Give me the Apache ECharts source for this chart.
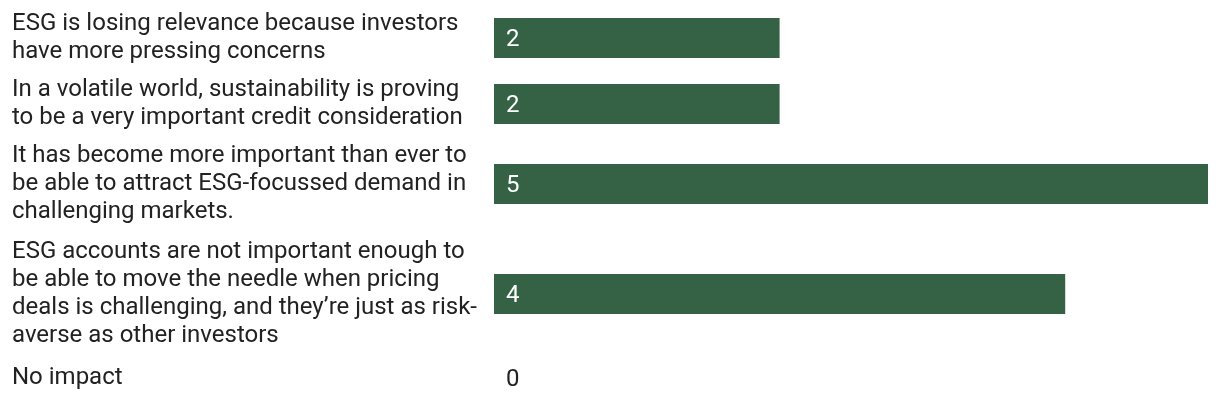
<!DOCTYPE html>
<html>
<head>
<meta charset="utf-8">
<script src="https://cdn.jsdelivr.net/npm/echarts@6/dist/echarts.min.js"></script>
<style>
html,body{margin:0;padding:0;background:#fff;}
#chart{width:1220px;height:410px;}
</style>
</head>
<body>
<div id="chart"></div>
<script>
const categories = [
  "ESG is losing relevance because investors\nhave more pressing concerns",
  "In a volatile world, sustainability is proving\nto be a very important credit consideration",
  "It has become more important than ever to\nbe able to attract ESG-focussed demand in\nchallenging markets.",
  "ESG accounts are not important enough to\nbe able to move the needle when pricing\ndeals is challenging, and they\u2019re just as risk-\naverse as other investors",
  "No impact"
];
const values = [2, 2, 5, 4, 0];
const axisMax = 5;

const rowCenters = [38, 104, 184, 294, 378];
const barH = 40;
const FONT = 'Roboto, "Noto Sans", sans-serif';
const barColor = '#356244';
const textColor = '#222222';

const grids = [], xAxes = [], yAxes = [], series = [];
categories.forEach((cat, i) => {
  grids.push({left: 494, right: 12, top: rowCenters[i] - barH / 2, height: barH, containLabel: false});
  xAxes.push({type: 'value', gridIndex: i, min: 0, max: axisMax, show: false});
  yAxes.push({
    type: 'category', gridIndex: i, data: [cat],
    axisLine: {show: false}, axisTick: {show: false}, splitLine: {show: false},
    axisLabel: {
      align: 'left', margin: 482, fontFamily: FONT, fontSize: 24, lineHeight: 28,
      color: textColor
    }
  });
  series.push({
    type: 'bar', xAxisIndex: i, yAxisIndex: i, barWidth: barH,
    itemStyle: {color: barColor},
    label: {
      show: true, position: 'insideLeft', distance: 12, offset: [0, 2],
      fontFamily: FONT, fontSize: 24,
      color: values[i] > 0 ? '#ffffff' : textColor
    },
    data: [values[i]],
    animation: false
  });
});

const chart = echarts.init(document.getElementById('chart'), null, {renderer: 'canvas'});
chart.setOption({
  animation: false,
  grid: grids, xAxis: xAxes, yAxis: yAxes, series: series
});
</script>
</body>
</html>
